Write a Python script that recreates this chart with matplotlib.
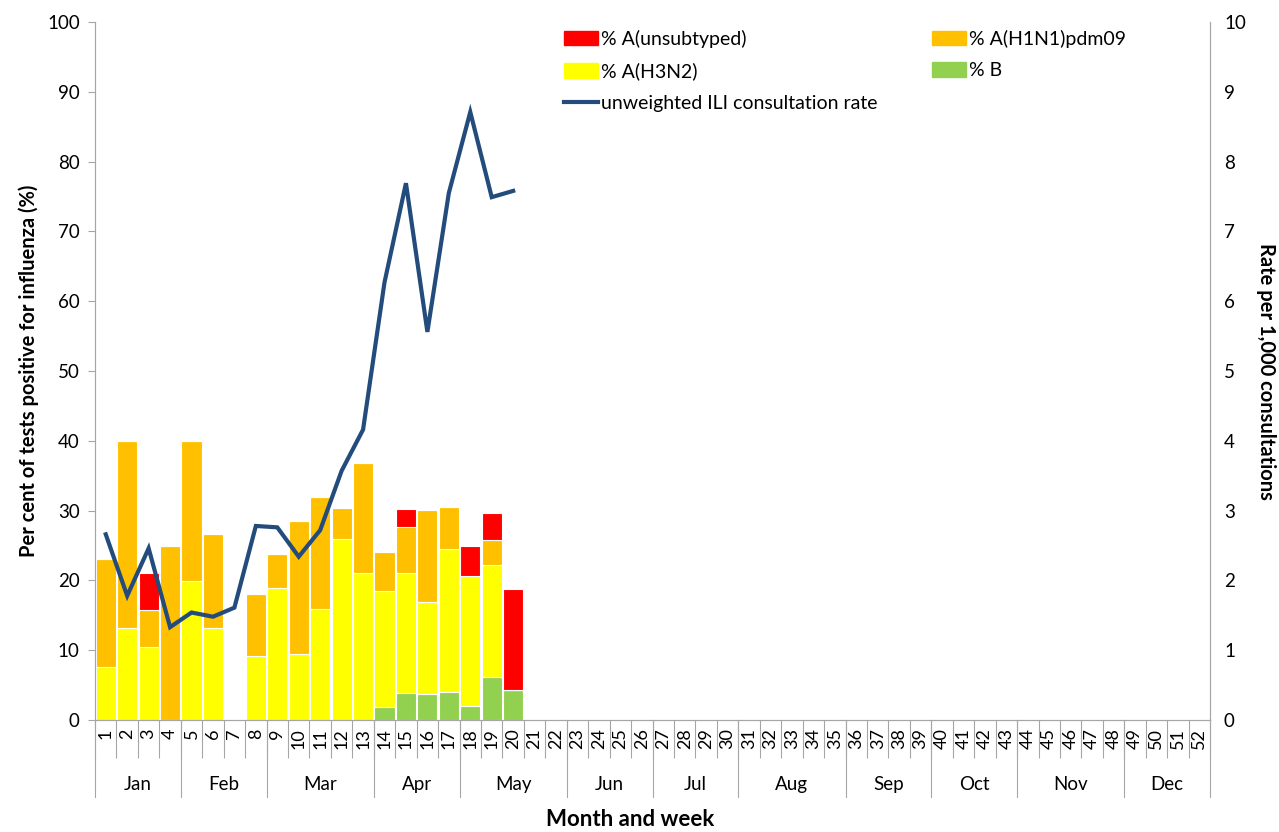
import numpy as np
import matplotlib.pyplot as plt
import matplotlib.transforms as mtransforms
from matplotlib.patches import Patch
from matplotlib.lines import Line2D

plt.rcParams['font.family'] = ['Lato', 'DejaVu Sans']

weeks = np.arange(1, 53)

# stacked percentages for weeks 1-20 (rest empty)
pct_b = [0, 0, 0, 0, 0, 0, 0, 0, 0, 0, 0, 0, 0, 1.8, 3.8, 3.7, 4.0, 2.0, 6.2, 4.3]
pct_h3n2 = [7.6, 13.2, 10.5, 0, 19.9, 13.2, 0, 9.1, 18.9, 9.5, 15.9, 26.0, 21.0,
            16.7, 17.2, 13.2, 20.5, 18.7, 16.0, 0]
pct_h1n1 = [15.4, 26.8, 5.2, 25.0, 20.1, 13.4, 0, 9.0, 4.9, 19.0, 16.1, 4.4, 15.8,
            5.5, 6.6, 13.2, 6.0, 0, 3.6, 0]
pct_unsub = [0, 0, 5.3, 0, 0, 0, 0, 0, 0, 0, 0, 0, 0, 0, 2.6, 0, 0, 4.3, 3.8, 14.5]

ili_rate = [2.66, 1.78, 2.46, 1.33, 1.54, 1.48, 1.61, 2.78, 2.76, 2.34, 2.72, 3.57,
            4.16, 6.27, 7.69, 5.56, 7.55, 8.71, 7.49, 7.58]

months = ['Jan', 'Feb', 'Mar', 'Apr', 'May', 'Jun', 'Jul', 'Aug', 'Sep', 'Oct', 'Nov', 'Dec']
month_first_week = [1, 5, 9, 14, 18, 23, 27, 31, 36, 40, 44, 49, 53]

fig = plt.figure(figsize=(12.79, 8.32), dpi=100)
ax = fig.add_axes([0.0743, 0.1346, 0.8718, 0.839])
ax2 = ax.twinx()

x = weeks[:len(pct_b)]
b = np.array(pct_b)
h3 = np.array(pct_h3n2)
h1 = np.array(pct_h1n1)
un = np.array(pct_unsub)
kw = dict(width=0.94, edgecolor='white', linewidth=0.8)
ax.bar(x, b, color='#92D050', **kw)
ax.bar(x, h3, bottom=b, color='#FFFF00', **kw)
ax.bar(x, h1, bottom=b + h3, color='#FFC000', **kw)
ax.bar(x, un, bottom=b + h3 + h1, color='#FF0000', **kw)

ax2.plot(x, ili_rate, color='#234C7C', lw=3.0, solid_joinstyle='miter')

ax.set_xlim(0.5, 52.5)
ax.set_ylim(0, 100)
ax2.set_ylim(0, 10)
ax.set_yticks(np.arange(0, 101, 10))
ax2.set_yticks(np.arange(0, 11, 1))

grey = '#A6A6A6'
for a in (ax, ax2):
    a.spines['top'].set_visible(False)
    for s in ('left', 'right', 'bottom'):
        a.spines[s].set_color(grey)
    a.tick_params(axis='y', labelsize=13.5, color=grey, length=5)
ax2.tick_params(axis='y', length=0, pad=10)
ax.tick_params(axis='y', pad=6)

# week labels
ax.set_xticks(weeks)
ax.set_xticklabels([str(wk) for wk in weeks], rotation=90, fontsize=13)
ax.tick_params(axis='x', which='major', length=0, pad=6)
ax.set_xticks(np.arange(0.5, 53, 1), minor=True)
ax.tick_params(axis='x', which='minor', length=27, color=grey, width=0.8)

# month separators and labels
trans = mtransforms.blended_transform_factory(ax.transData, ax.transAxes)
for i, m in enumerate(months):
    x0 = month_first_week[i] - 0.5
    x1 = month_first_week[i + 1] - 0.5
    ax.plot([x0, x0], [0, -0.111], transform=trans, color=grey, lw=0.8, clip_on=False)
    ax.text((x0 + x1) / 2, -0.092, m, transform=trans, ha='center', va='center',
            fontsize=13.5)
ax.plot([52.5, 52.5], [0, -0.111], transform=trans, color=grey, lw=0.8, clip_on=False)

ax.set_ylabel('Per cent of tests positive for influenza (%)', fontsize=14.5,
              fontweight='bold', labelpad=6)
ax2.set_ylabel('Rate per 1,000 consultations', fontsize=14.5, fontweight='bold',
               rotation=270, labelpad=22)
fig.text(0.493, 0.003, 'Month and week', ha='center', va='bottom', fontsize=16,
         fontweight='bold')

# legend
handles = [Patch(color='#FF0000', label='% A(unsubtyped)'),
           Patch(color='#FFFF00', label='% A(H3N2)'),
           Line2D([], [], color='#234C7C', lw=3.0, label='unweighted ILI consultation rate'),
           Patch(color='#FFC000', label='% A(H1N1)pdm09'),
           Patch(color='#92D050', label='% B')]
ax2.legend(handles=handles, ncol=2, frameon=False, fontsize=14,
           loc='upper left', bbox_to_anchor=(0.414, 1.0), columnspacing=2.8,
           handlelength=1.75, handleheight=0.75, handletextpad=0.15, labelspacing=0.75,
           borderaxespad=0)

fig.savefig('out.png', dpi=100)
